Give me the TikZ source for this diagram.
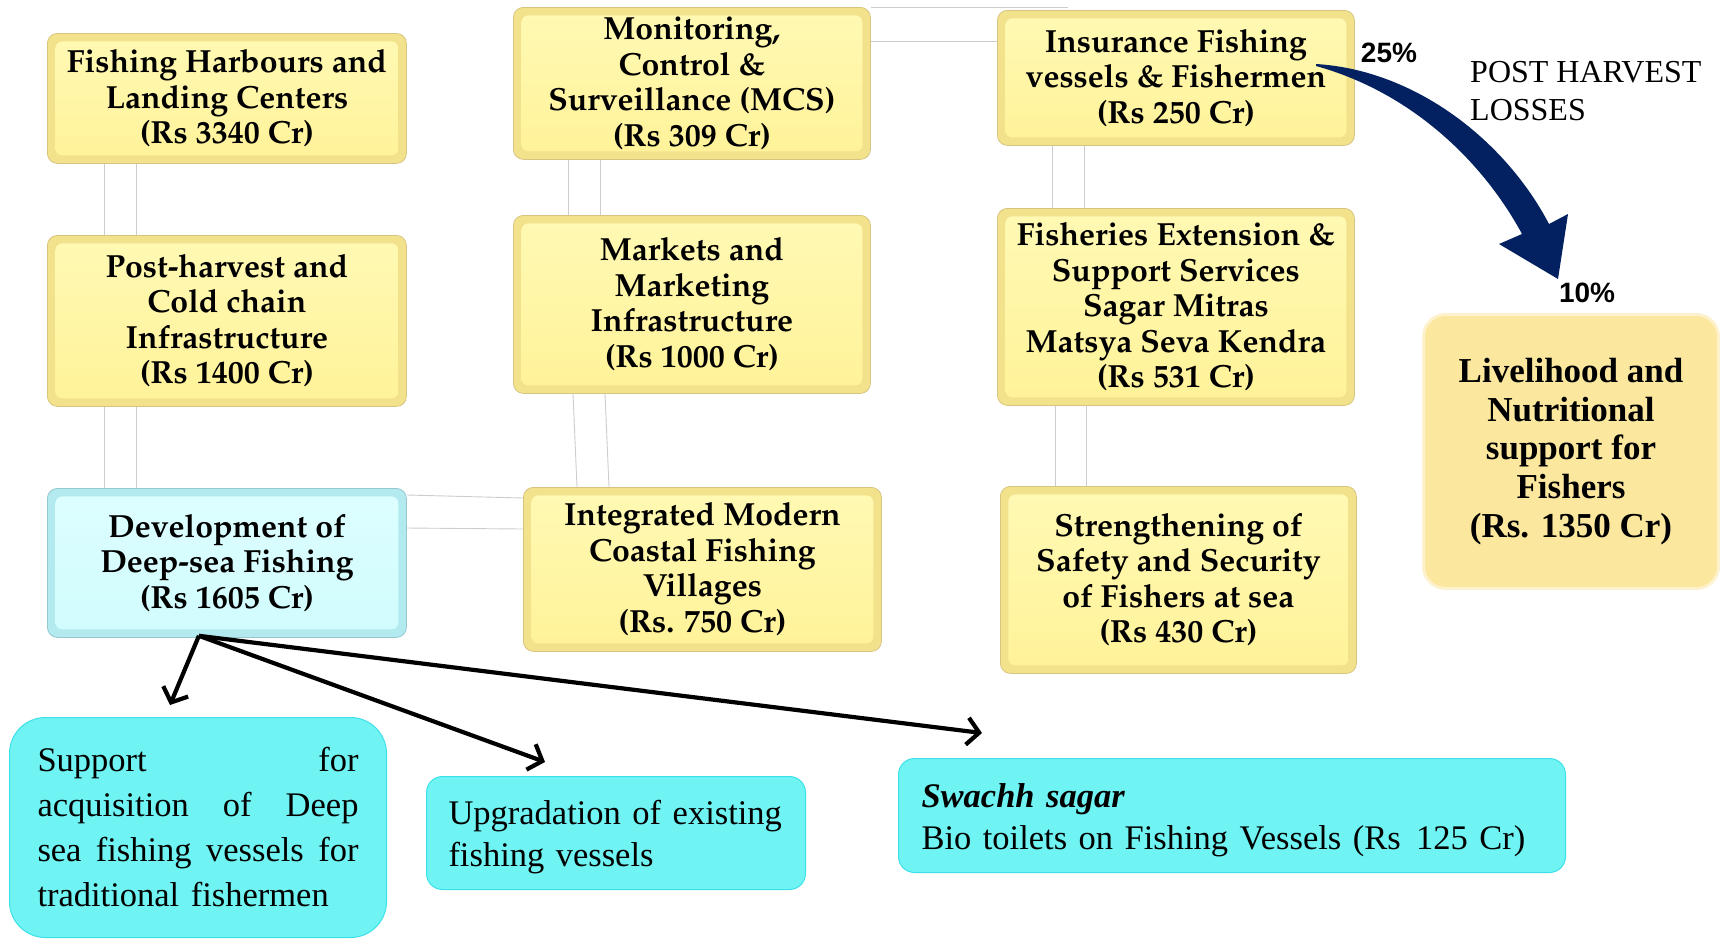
\documentclass[tikz,border=0pt]{standalone}
\usepackage[T1]{fontenc}
\usepackage{fontspec}
\usetikzlibrary{arrows.meta,calc}
\newfontfamily\lserif{Liberation Serif}
\newfontfamily\lsans{Liberation Sans}
\newcommand\palfont{\fontencoding{T1}\fontfamily{ppl}\selectfont}

\definecolor{ybevel}{RGB}{243,226,140}
\definecolor{yedge}{RGB}{214,196,128}
\definecolor{yinTop}{RGB}{255,249,180}
\definecolor{yinBot}{RGB}{255,242,152}
\definecolor{cbevel}{RGB}{178,234,240}
\definecolor{cedge}{RGB}{150,200,208}
\definecolor{cinTop}{RGB}{222,254,255}
\definecolor{cinBot}{RGB}{208,252,254}
\definecolor{aqua}{RGB}{112,243,243}
\definecolor{aquaedge}{RGB}{60,224,232}
\definecolor{livefill}{RGB}{251,232,158}
\definecolor{liveedge}{RGB}{253,242,205}
\definecolor{navy}{RGB}{3,33,96}
\definecolor{link}{RGB}{205,205,205}

\pgfdeclarelayer{bg}
\pgfsetlayers{bg,main}

% taller first line, lowering the text block a little inside its box
\newcommand\drop{\rule{0pt}{33pt}}
% one justified line of fixed width
\newcommand\jline[1]{\makebox[321pt][l]{#1}}

\tikzset{
  bevelbox/.style n args={3}{anchor=north west, inner sep=0pt,
    rounded corners=10pt, fill=#1, draw=#2, line width=0.8pt, align=center,
    font={\palfont\bfseries\fontsize{32}{35.5}\selectfont},
    path picture={\fill[rounded corners=7pt, top color=#3Top, bottom color=#3Bot]
      ([shift={(8pt,-8pt)}]path picture bounding box.north west) rectangle
      ([shift={(-8pt,8pt)}]path picture bounding box.south east);}},
  ybox/.style={bevelbox={ybevel}{yedge}{yin}},
  cbox/.style={bevelbox={cbevel}{cedge}{cin}},
  aquabox/.style={anchor=north west, fill=aqua, draw=aquaedge, line width=1pt,
    rounded corners=16pt, align=left,
    font={\lserif\fontsize{34.5}{42}\selectfont}},
  livebox/.style={anchor=north west, inner sep=0pt, fill=livefill, draw=liveedge,
    line width=3pt, rounded corners=22pt, align=center,
    font={\lserif\bfseries\fontsize{35}{38.7}\selectfont}},
  pct/.style={font={\lsans\bfseries\fontsize{28}{32}\selectfont}},
  linkline/.style={draw=link, line width=0.9pt},
  branch/.style={line width=4.2pt, -{Straight Barb[length=12pt,width=27pt,line width=4.2pt]}},
}

\begin{document}
\begin{tikzpicture}[x=1pt,y=-1pt]
\useasboundingbox (0,0) rectangle (1720,938);

% component boxes
\node[ybox, minimum width=359pt, minimum height=130pt] (harb) at (47,33)
  {Fishing Harbours and\\Landing Centers\\(Rs 3340 Cr)};
\node[ybox, minimum width=359pt, minimum height=171pt] (post) at (47,235)
  {Post-harvest and\\Cold chain\\Infrastructure\\(Rs 1400 Cr)};
\node[cbox, minimum width=359pt, minimum height=149pt] (deep) at (47,488)
  {Development of\\Deep-sea Fishing\\(Rs 1605 Cr)};
\node[ybox, minimum width=357pt, minimum height=152pt] (mcs) at (513,7)
  {Monitoring,\\Control \&\\Surveillance (MCS)\\(Rs 309 Cr)};
\node[ybox, minimum width=357pt, minimum height=178pt] (mkt) at (513,215)
  {Markets and\\Marketing\\Infrastructure\\(Rs 1000 Cr)};
\node[ybox, minimum width=358pt, minimum height=164pt] (vill) at (523,487)
  {Integrated Modern\\Coastal Fishing\\Villages\\(Rs. 750 Cr)};
\node[ybox, minimum width=357pt, minimum height=135pt] (ins) at (997,10)
  {Insurance Fishing\\vessels \& Fishermen\\(Rs 250 Cr)};
\node[ybox, minimum width=357pt, minimum height=197pt] (ext) at (997,208)
  {Fisheries Extension \&\\Support Services\\Sagar Mitras\\Matsya Seva Kendra\\(Rs 531 Cr)};
\node[ybox, minimum width=356pt, minimum height=187pt] (safe) at (1000,486)
  {Strengthening of\\Safety and Security\\of Fishers at sea\\(Rs 430 Cr)};
\node[livebox, minimum width=295pt, minimum height=274pt] (live) at (1422,313)
  {Livelihood and\\Nutritional\\support for\\Fishers\\(Rs. 1350 Cr)};

% deep-sea sub-components
\node[aquabox, rounded corners=36pt, minimum height=220pt, inner xsep=28pt,
      text width=321pt, font={\lserif\fontsize{34.5}{45}\selectfont}] (acq) at (9,717)
  {\jline{Support\hfill for}\\
   \jline{acquisition\hfill of\hfill Deep}\\
   \jline{sea\hfill fishing\hfill vessels\hfill for}\\
   traditional fishermen};
\node[aquabox, minimum height=113pt, inner xsep=22pt, text width=335pt] (upg) at (426,776)
  {\drop Upgradation of existing\\fishing vessels};
\node[aquabox, minimum height=114pt, inner xsep=23pt, text width=621pt] (swa) at (898,758)
  {\drop\textbf{\textit{Swachh sagar}}\\Bio toilets on Fishing Vessels (Rs\hspace{4pt} 125 Cr)};

% faint links between the boxes
\begin{pgfonlayer}{bg}
  \foreach \dx in {57,89} {
    \draw[linkline] ($(harb.south west)+(\dx,0)$) -- ($(post.north west)+(\dx,0)$);
    \draw[linkline] ($(post.south west)+(\dx,0)$) -- ($(deep.north west)+(\dx,0)$);
  }
  \draw[linkline] ($(mcs.south west)+(55,0)$) -- ($(mkt.north west)+(55,0)$);
  \draw[linkline] ($(mcs.south west)+(87,0)$) -- ($(mkt.north west)+(87,0)$);
  \draw[linkline] ($(mkt.south west)+(60,0)$) -- ($(vill.north west)+(54,0)$);
  \draw[linkline] ($(mkt.south west)+(92,0)$) -- ($(vill.north west)+(86,0)$);
  \draw[linkline] ($(ins.south west)+(55,0)$) -- ($(ext.north west)+(55,0)$);
  \draw[linkline] ($(ins.south west)+(87,0)$) -- ($(ext.north west)+(87,0)$);
  \draw[linkline] ($(ext.south west)+(58,0)$) -- ($(safe.north west)+(55,0)$);
  \draw[linkline] ($(ext.south west)+(89,0)$) -- ($(safe.north west)+(86,0)$);
  \draw[linkline] ($(deep.north east)+(0,7)$) -- ($(vill.north west)+(0,11)$);
  \draw[linkline] ($(deep.north east)+(0,40)$) -- ($(vill.north west)+(0,42)$);
  \coordinate (mcsend) at (1068,7);
  \draw[linkline] (mcs.north east) -- (mcsend);
  \draw[linkline] ($(mcs.north east)+(0,34)$) -- ($(ins.north west)+(0,31)$);
\end{pgfonlayer}

% branches from the deep-sea box
\coordinate (src) at ($(deep.south)+(-28,-2)$);
\coordinate (tipA) at (170,705);
\coordinate (tipB) at (545,762);
\coordinate (tipC) at (982,733);
\draw[branch] (src) -- (tipA);
\draw[branch] (src) -- (tipB);
\draw[branch] (src) -- (tipC);

% post-harvest losses arrow
\fill[navy] (1316,64) .. controls (1415,70) and (1505,140) .. (1549,224)
  -- (1568,214) -- (1558,279) -- (1499,244) -- (1522,234)
  .. controls (1482,160) and (1410,92) .. (1316,66) -- cycle;
\node[pct] (p25) at (1389,53) {25\%};
\node[pct] (p10) at (1587,293) {10\%};
\node[anchor=west, align=left, inner sep=0pt,
      font={\lserif\fontsize{32}{37.3}\selectfont}] (losses) at (1470,91)
  {POST HARVEST\\LOSSES};
\end{tikzpicture}
\end{document}
